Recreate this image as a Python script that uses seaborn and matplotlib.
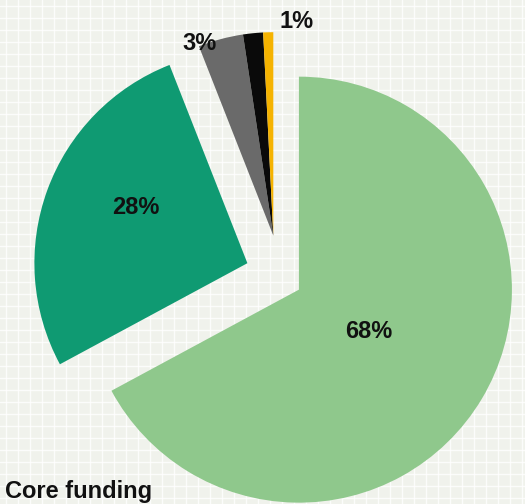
import numpy as np
import matplotlib
matplotlib.use("Agg")
import matplotlib.pyplot as plt
import seaborn as sns

# ---- data ----
categories = ["Core funding", "Other A", "Other B", "Other C", "Other D"]
values = [67.6, 27.1, 3.6, 1.6, 0.8]
labels = ["68%", "28%", "3%", "", "1%"]
colors = ["#8fc88c", "#0f9a72", "#6a6a6a", "#0a0a0a", "#f5b300"]
explode = [0.18, 0.093, 0.165, 0.165, 0.165]   # fraction of radius
group = [0, 1, 2, 2, 2]                          # small slices pulled out together
group_dir = {2: 78.0}                             # pull-out direction for small group (deg)

sns.set_theme(style="white")
plt.rcParams["font.family"] = ["Liberation Sans", "DejaVu Sans"]

W, H = 525, 504
R = 213
CX, CY = 266, H - 270
fig = plt.figure(figsize=(W / 100, H / 100), dpi=100)
bg = "#f0f2ec"
fig.patch.set_facecolor(bg)
ax = fig.add_axes([0, 0, 1, 1])

wedges, _ = ax.pie(values, colors=colors, startangle=90, counterclock=False,
                   radius=R, center=(CX, CY), wedgeprops=dict(linewidth=0),
                   frame=True)

# explode by group (slices of a group share one offset)
for g in set(group):
    idx = [i for i, gg in enumerate(group) if gg == g]
    t1 = min(wedges[i].theta1 for i in idx)
    t2 = max(wedges[i].theta2 for i in idx)
    mid = np.deg2rad(group_dir.get(g, (t1 + t2) / 2))
    off = explode[idx[0]] * R
    for i in idx:
        wedges[i].set_center((CX + off * np.cos(mid), CY + off * np.sin(mid)))
        if g == 2:
            wedges[i].set_radius(R * 0.955)

ax.set_xlim(0, W)
ax.set_ylim(0, H)
ax.set_aspect("equal")
ax.set_facecolor(bg)
for s in ax.spines.values():
    s.set_visible(False)
ax.set_xticks(np.arange(6, W, 12))
ax.set_yticks(np.arange(6, H, 12))
ax.tick_params(length=0, labelbottom=False, labelleft=False)
ax.grid(True, color="white", linewidth=1.0, alpha=0.8)
ax.set_axisbelow(True)

# label positions (pixel coords, y up)
label_pos = [(369, H - 332), (136, H - 208), (200, H - 43), None, (297, H - 22)]
for lab, pos in zip(labels, label_pos):
    if lab and pos:
        ax.text(pos[0], pos[1], lab, ha="center", va="center", fontsize=17,
                fontweight="bold", color="#111111")

ax.text(5, 1, categories[0], ha="left", va="bottom", fontsize=17,
        fontweight="bold", color="#111111")

fig.savefig("out.png", dpi=100, facecolor=fig.get_facecolor())
